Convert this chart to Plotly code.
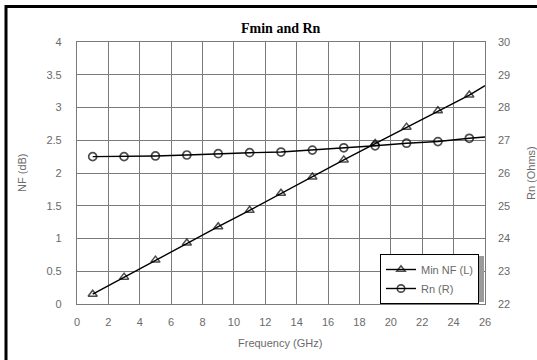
import numpy as np
import plotly.graph_objects as go

freq = [1, 3, 5, 7, 9, 11, 13, 15, 17, 19, 21, 23, 25]
min_nf = [0.15, 0.41, 0.67, 0.93, 1.18, 1.43, 1.69, 1.94, 2.2, 2.45, 2.7, 2.95, 3.19]
rn = [26.50, 26.50, 26.52, 26.55, 26.59, 26.62, 26.64, 26.70, 26.77, 26.83, 26.91, 26.96, 27.06]
x_ticks = list(range(0, 27, 2))
nf_ticks = [0, 0.5, 1, 1.5, 2, 2.5, 3, 3.5, 4]
rn_ticks = list(range(22, 31))

X_END = 26
nf_fit = np.polyfit(freq, min_nf, 1)
rn_fit = np.polyfit(freq, rn, 2)

W, H = 537, 360
L, R, T, B = 77, 52, 42, 56
pw, ph = W - L - R, H - T - B


def px(x):
    return (x - L) / pw


def py(y):
    return (H - B - y) / ph


FONT = "Arial, Liberation Sans, sans-serif"
GRAY = "#6a6a6a"

fig = go.Figure()
sizes = [8] * len(freq) + [0]
fig.add_trace(go.Scatter(
    x=freq + [X_END], y=min_nf + [float(np.polyval(nf_fit, X_END))],
    mode="lines+markers", name="Min NF (L)",
    line=dict(color="black", width=1.4),
    marker=dict(symbol="triangle-up-open", size=sizes, color="black", line=dict(width=1.5)),
))
fig.add_trace(go.Scatter(
    x=freq + [X_END], y=rn + [float(np.polyval(rn_fit, X_END))],
    mode="lines+markers", name="Rn (R)", yaxis="y2",
    line=dict(color="black", width=1.4),
    marker=dict(symbol="circle-open", size=sizes, color="black", line=dict(width=1.7)),
))

grid = dict(showgrid=True, gridcolor="#7a7a7a", gridwidth=1.2, zeroline=False,
            tickfont=dict(family=FONT, size=11, color=GRAY), ticks="")
ann = dict(xref="paper", yref="paper", showarrow=False, xanchor="center", yanchor="middle")
fig.update_layout(
    width=W, height=H,
    margin=dict(l=L, r=R, t=T, b=B),
    paper_bgcolor="white", plot_bgcolor="white",
    showlegend=True,
    xaxis=dict(range=[0, 26], tickvals=x_ticks, ticklabelstandoff=8,
               showline=True, linecolor="#7a7a7a", linewidth=1.2, mirror=True, **grid),
    yaxis=dict(range=[0, 4], tickvals=nf_ticks, ticklabelstandoff=12,
               showline=True, linecolor="#7a7a7a", linewidth=1.2, mirror=True, **grid),
    yaxis2=dict(range=[22, 30], tickvals=rn_ticks, overlaying="y", side="right",
                showgrid=False, zeroline=False, ticks="", ticklabelstandoff=12,
                tickfont=dict(family=FONT, size=11, color=GRAY)),
    legend=dict(x=px(380), y=py(254), xanchor="left", yanchor="top",
                bgcolor="white", bordercolor="black", borderwidth=1,
                font=dict(family=FONT, size=11, color=GRAY),
                itemwidth=30, tracegroupgap=0),
    annotations=[
        dict(text="<b>Fmin and Rn</b>", x=px(281), y=py(28),
             font=dict(family="Times New Roman, Liberation Serif, serif", size=14, color="black"), **ann),
        dict(text="Frequency (GHz)", x=px(280), y=py(343),
             font=dict(family=FONT, size=11, color=GRAY), **ann),
        dict(text="NF (dB)", x=px(22), y=py(173), textangle=-90,
             font=dict(family=FONT, size=11, color=GRAY), **ann),
        dict(text="Rn (Ohms)", x=px(531), y=py(173), textangle=-90,
             font=dict(family=FONT, size=11, color=GRAY), **ann),
    ],
    shapes=[
        dict(type="rect", xref="paper", yref="paper", x0=px(6), x1=px(560), y0=py(6.5), y1=py(380),
             line=dict(color="black", width=3), fillcolor="rgba(0,0,0,0)", layer="above"),
        dict(type="rect", xref="paper", yref="paper", x0=px(382), x1=px(484), y0=py(256), y1=py(302),
             fillcolor="#9a9a9a", line=dict(width=0), layer="above"),
    ],
)

fig.write_html("out.html", config={"displayModeBar": False},
               post_script="document.body.style.margin='0';document.body.style.overflow='hidden';")
